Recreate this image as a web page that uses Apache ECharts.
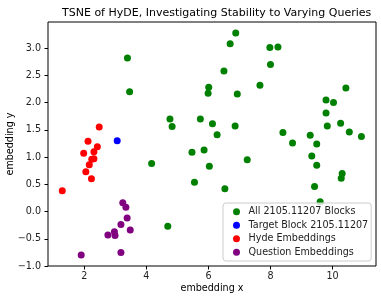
<!DOCTYPE html>
<html>
<head>
<meta charset="utf-8">
<script src="https://cdn.jsdelivr.net/npm/echarts@6/dist/echarts.min.js"></script>
<style>html,body{margin:0;padding:0;background:#fff;}#c{width:381px;height:300px;}</style>
</head>
<body>
<div id="c"></div>
<script>
const titleText = "TSNE of HyDE, Investigating Stability to Varying Queries";
const xName = "embedding x";
const yName = "embedding y";
const seriesNames = ["All 2105.11207 Blocks", "Target Block 2105.11207", "Hyde Embeddings", "Question Embeddings"];
const seriesColors = ["#008000", "#0000ff", "#ff0000", "#800080"];
const xTicks = [2, 4, 6, 8, 10];
const yTicks = [-1.0, -0.5, 0.0, 0.5, 1.0, 1.5, 2.0, 2.5, 3.0];

const allBlocksX = [3.39, 3.46, 4.76, 4.83, 4.17, 4.69, 6.88, 6.70, 6.50, 7.66, 6.01, 5.99, 6.93, 5.74, 6.13, 6.86, 6.28, 5.47, 5.86, 7.25, 6.03, 5.55, 6.53, 7.98, 8.24, 8.00, 10.43, 9.79, 10.03, 9.79, 10.26, 9.83, 8.40, 9.28, 10.54, 10.93, 8.71, 9.49, 9.33, 9.49, 10.31, 10.28, 9.42, 9.60];
const allBlocksY = [2.82, 2.20, 1.70, 1.56, 0.88, -0.27, 3.28, 3.08, 2.58, 2.32, 2.28, 2.17, 2.16, 1.70, 1.61, 1.57, 1.41, 1.09, 1.13, 0.95, 0.83, 0.54, 0.42, 3.01, 3.02, 2.70, 2.27, 2.05, 2.00, 1.81, 1.62, 1.57, 1.45, 1.40, 1.46, 1.38, 1.26, 1.24, 1.02, 0.85, 0.70, 0.61, 0.46, 0.18];
const targetX = [3.06];
const targetY = [1.30];
const hydeX = [2.48, 2.12, 2.42, 1.98, 2.31, 2.31, 2.24, 2.16, 2.05, 2.23, 1.29];
const hydeY = [1.55, 1.29, 1.19, 1.07, 1.10, 0.97, 0.96, 0.86, 0.73, 0.60, 0.38];
const questionX = [3.24, 3.34, 3.38, 3.18, 3.48, 2.97, 2.99, 2.76, 3.18, 1.90];
const questionY = [0.16, 0.08, -0.12, -0.24, -0.34, -0.37, -0.44, -0.43, -0.75, -0.80];

const xs = [allBlocksX, targetX, hydeX, questionX];
const ys = [allBlocksY, targetY, hydeY, questionY];

const font = "DejaVu Sans";
const fs = 9.6;
const chart = echarts.init(document.getElementById('c'), null, {renderer: 'canvas'});
const fmtY = v => (v < 0 ? '\u2212' : '') + Math.abs(v).toFixed(1);

chart.setOption({
  animation: false,
  backgroundColor: '#fff',
  title: {
    text: titleText, left: 57, top: 3,
    textStyle: {fontFamily: font, fontSize: 11, fontWeight: 'normal', color: '#000'}
  },
  grid: {left: 48, right: 5, top: 22, bottom: 34, show: true, borderColor: '#000', borderWidth: 1,
         containLabel: false, outerBoundsMode: 'none'},
  xAxis: {
    type: 'value', min: 0.83, max: 11.4,
    name: xName, nameLocation: 'middle', nameGap: 17, nameMoveOverlap: false,
    nameTextStyle: {fontFamily: font, fontSize: 9.6, color: '#000'},
    axisLine: {show: false, onZero: false},
    splitLine: {show: false},
    axisTick: {show: true, inside: false, length: 3.5, lineStyle: {color: '#000'}, customValues: xTicks},
    axisLabel: {fontFamily: font, fontSize: fs, color: '#222', margin: 5.5, customValues: xTicks, formatter: v => String(v)}
  },
  yAxis: {
    type: 'value', min: -1.0, max: 3.48,
    name: yName, nameLocation: 'middle', nameGap: 33, nameRotate: 90, nameMoveOverlap: false,
    nameTextStyle: {fontFamily: font, fontSize: 9.6, color: '#000'},
    axisLine: {show: false, onZero: false},
    splitLine: {show: false},
    axisTick: {show: true, inside: false, length: 3.5, lineStyle: {color: '#000'}, customValues: yTicks},
    axisLabel: {fontFamily: font, fontSize: fs, color: '#222', margin: 7, customValues: yTicks, formatter: fmtY}
  },
  legend: {
    orient: 'vertical', left: 223, top: 203,
    data: seriesNames.map(n => ({name: n, icon: 'circle'})),
    itemWidth: 14, itemHeight: 7, itemGap: 2, itemTextGap: 5,
    padding: [3, 3, 3, 10],
    backgroundColor: 'rgba(255,255,255,0.8)',
    borderColor: '#ccc', borderWidth: 1, borderRadius: 3,
    textStyle: {fontFamily: font, fontSize: fs, color: '#222', lineHeight: 11.5},
    z: 10
  },
  series: seriesNames.map((n, i) => ({
    name: n, type: 'scatter', symbol: 'circle', symbolSize: 7,
    itemStyle: {color: seriesColors[i], opacity: 1},
    data: xs[i].map((x, j) => [x, ys[i][j]])
  }))
});
</script>
</body>
</html>
